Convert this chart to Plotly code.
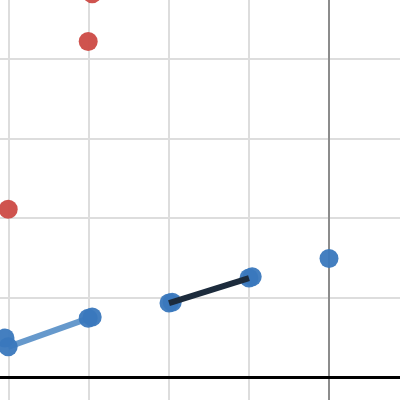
import plotly.graph_objects as go

# red points
red_x = [-2.96, -3.01, -4.01]
red_y = [4.82, 4.22, 2.11]

# blue points (pairs overlap slightly)
blue_x = [-4.05, -4.01, -3.01, -2.96, -2.0, -1.96, -1.0, -0.96, 0.0]
blue_y = [0.49, 0.38, 0.74, 0.755, 0.93, 0.94, 1.245, 1.26, 1.49]

# connecting segments
light_x = [-4.01, -3.0]
light_y = [0.38, 0.74]
dark_x = [-2.0, -1.0]
dark_y = [0.93, 1.245]

fig = go.Figure()
fig.add_trace(
    go.Scatter(
        x=light_x, y=light_y, mode="lines",
        line={"color": "#6699cc", "width": 6},
        showlegend=False,
    )
)
fig.add_trace(
    go.Scatter(
        x=red_x, y=red_y, mode="markers",
        marker={"color": "#cc4a45", "size": 19, "opacity": 0.95},
        showlegend=False,
    )
)
fig.add_trace(
    go.Scatter(
        x=blue_x, y=blue_y, mode="markers",
        marker={"color": "#3a78bd", "size": 19, "opacity": 0.95},
        showlegend=False,
    )
)
fig.add_trace(
    go.Scatter(
        x=dark_x, y=dark_y, mode="lines",
        line={"color": "#1c2b3c", "width": 6},
        showlegend=False,
    )
)

fig.update_layout(
    width=400,
    height=400,
    margin={"l": 0, "r": 0, "t": 0, "b": 0},
    paper_bgcolor="white",
    plot_bgcolor="white",
    xaxis={
        "range": [-4.1125, 0.8875],
        "dtick": 1,
        "showticklabels": False,
        "gridcolor": "#dddddd",
        "gridwidth": 2,
        "zeroline": True,
        "zerolinecolor": "#8c8c8c",
        "zerolinewidth": 2,
    },
    yaxis={
        "range": [-0.289, 4.742],
        "dtick": 1,
        "showticklabels": False,
        "gridcolor": "#dddddd",
        "gridwidth": 2,
        "zeroline": True,
        "zerolinecolor": "#000000",
        "zerolinewidth": 3,
    },
)

# drop the browser's default body margin so the plot sits at the page corner
fig.write_html(
    "out.html",
    config={"displayModeBar": False},
    post_script="document.body.style.margin='0';",
)
